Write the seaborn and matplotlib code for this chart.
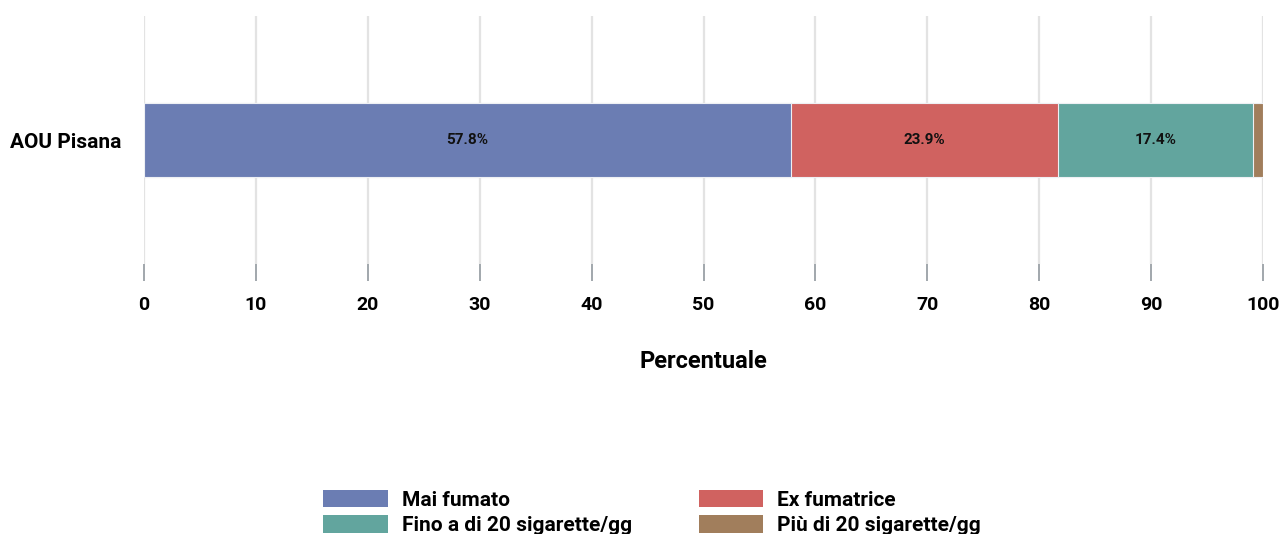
import matplotlib
matplotlib.use("Agg")
import matplotlib.pyplot as plt
import seaborn as sns
import pandas as pd
import numpy as np
from matplotlib.patches import Patch

categories = ["AOU Pisana"]
series_names = ["Mai fumato", "Ex fumatrice", "Fino a di 20 sigarette/gg", "Più di 20 sigarette/gg"]
series_values = [57.8, 23.9, 17.4, 0.9]
colors = ["#6B7DB3", "#D06260", "#62A59E", "#A17E5C"]
x_ticks = [0, 10, 20, 30, 40, 50, 60, 70, 80, 90, 100]

sns.set_theme(style="white")
plt.rcParams["font.family"] = ["Roboto", "DejaVu Sans"]
plt.rcParams["font.weight"] = "bold"
plt.rcParams["text.color"] = "#000000"
plt.rcParams["axes.labelcolor"] = "#000000"
plt.rcParams["xtick.labelcolor"] = "#000000"
plt.rcParams["ytick.labelcolor"] = "#000000"

fig = plt.figure(figsize=(12.81, 5.34), dpi=100)
ax = fig.add_axes([144 / 1281, (534 - 264) / 534, (1263 - 144) / 1281, 248 / 534])

cum = np.cumsum(series_values)
# draw from largest cumulative to smallest so segments stack
for i in range(len(series_values) - 1, -1, -1):
    df = pd.DataFrame({"cat": categories, "val": [cum[i]]})
    sns.barplot(data=df, x="val", y="cat", orient="h", color=colors[i],
                width=0.3, saturation=1, ax=ax, edgecolor="#eef0f4", linewidth=0.8,
                zorder=3)

for i, v in enumerate(series_values):
    if v >= 5:
        start = cum[i] - v
        ax.text(start + v / 2, 0, f"{v}%", ha="center", va="center",
                fontsize=11, fontweight="bold", color="#111111", zorder=5)

ax.set_xlim(0, 100)
ax.set_ylim(0.5, -0.5)
ax.set_xticks(x_ticks)
ax.set_xticklabels([str(t) for t in x_ticks], fontsize=14, fontweight="bold")
ax.tick_params(axis="x", length=12, width=1.3, color="#9aa0a6", pad=11, bottom=True)
ax.tick_params(axis="y", length=0, pad=16, labelsize=15)
for lab in ax.get_yticklabels():
    lab.set_fontweight("bold")
ax.grid(axis="x", color="#e3e3e3", linewidth=1.6, zorder=0)
ax.grid(axis="y", visible=False)
for s in ax.spines.values():
    s.set_visible(False)
ax.set_ylabel("")
ax.set_xlabel("Percentuale", fontsize=17, fontweight="bold", labelpad=26)

handles = [Patch(facecolor=c, edgecolor="none") for c in colors]
order = [0, 2, 1, 3]
fig.legend([handles[k] for k in order], [series_names[k] for k in order],
           loc="lower center", bbox_to_anchor=(0.509, -0.037),
           ncol=2, frameon=False, handlelength=3.1, handleheight=0.95,
           columnspacing=3.2, labelspacing=0.25, handletextpad=0.67,
           prop={"weight": "bold", "size": 15})

fig.savefig("out.png", dpi=100)
